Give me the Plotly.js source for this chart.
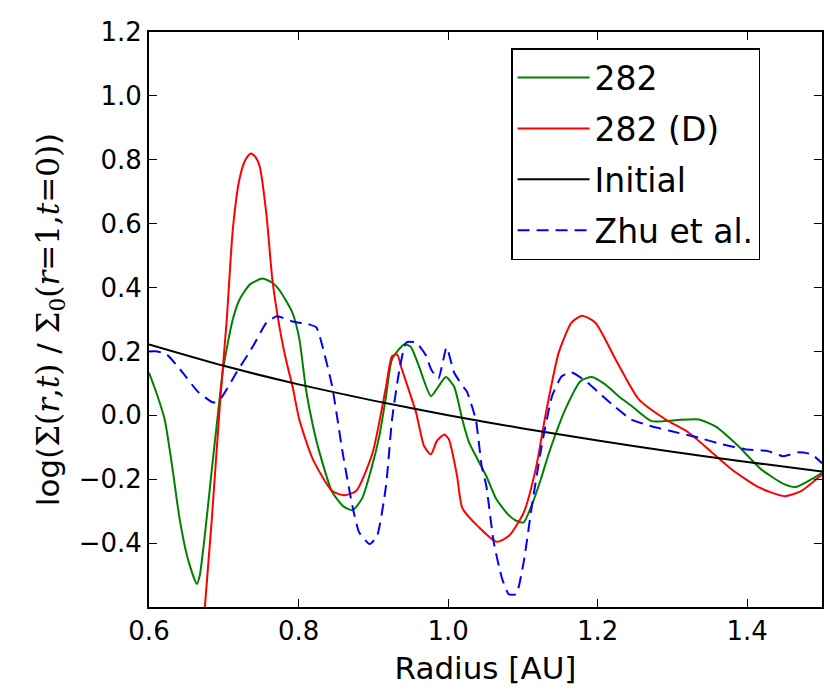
<!DOCTYPE html>
<html>
<head>
<meta charset="utf-8">
<script src="https://cdn.plot.ly/plotly-3.0.1.min.js"></script>
<style>
  body { margin: 0; background: #fff; }
  #chart { width: 830px; height: 695px; }
</style>
</head>
<body>
<div id="chart"></div>
<script>
// values
var r282 = [0.600, 0.610, 0.621, 0.631, 0.641, 0.652, 0.664, 0.668, 0.676, 0.684, 0.692, 0.699, 0.712, 0.721, 0.735, 0.752, 0.765, 0.775, 0.792, 0.801, 0.810, 0.819, 0.828, 0.845, 0.860, 0.872, 0.885, 0.897, 0.908, 0.917, 0.925, 0.941, 0.950, 0.960, 0.977, 0.987, 0.997, 1.008, 1.019, 1.028, 1.051, 1.064, 1.080, 1.091, 1.101, 1.112, 1.124, 1.135, 1.157, 1.177, 1.192, 1.210, 1.228, 1.245, 1.272, 1.304, 1.335, 1.357, 1.388, 1.419, 1.450, 1.465, 1.486, 1.500];
var s282 = [0.134, 0.070, -0.013, -0.160, -0.325, -0.450, -0.528, -0.500, -0.347, -0.170, 0.000, 0.144, 0.300, 0.362, 0.410, 0.428, 0.415, 0.390, 0.320, 0.240, 0.080, -0.030, -0.116, -0.240, -0.285, -0.297, -0.260, -0.170, -0.065, 0.060, 0.175, 0.222, 0.215, 0.160, 0.060, 0.090, 0.120, 0.090, -0.013, -0.085, -0.190, -0.260, -0.310, -0.330, -0.335, -0.280, -0.200, -0.117, 0.020, 0.107, 0.120, 0.097, 0.060, 0.030, -0.018, -0.015, -0.013, -0.034, -0.096, -0.170, -0.216, -0.224, -0.200, -0.180];

var r282D = [0.672, 0.684, 0.695, 0.704, 0.712, 0.721, 0.729, 0.736, 0.742, 0.748, 0.757, 0.765, 0.775, 0.784, 0.792, 0.801, 0.819, 0.845, 0.861, 0.877, 0.899, 0.917, 0.925, 0.932, 0.937, 0.957, 0.968, 0.977, 0.985, 0.995, 1.001, 1.012, 1.019, 1.041, 1.065, 1.081, 1.101, 1.117, 1.131, 1.148, 1.165, 1.179, 1.197, 1.224, 1.255, 1.291, 1.321, 1.348, 1.379, 1.415, 1.450, 1.472, 1.500];
var s282D = [-0.680, -0.325, 0.040, 0.300, 0.580, 0.740, 0.800, 0.820, 0.810, 0.780, 0.630, 0.425, 0.270, 0.166, 0.090, -0.013, -0.137, -0.237, -0.250, -0.237, -0.117, 0.090, 0.185, 0.190, 0.153, 0.010, -0.097, -0.122, -0.080, -0.060, -0.075, -0.190, -0.290, -0.350, -0.396, -0.378, -0.305, -0.170, 0.010, 0.197, 0.290, 0.312, 0.290, 0.175, 0.050, -0.013, -0.053, -0.106, -0.169, -0.225, -0.253, -0.237, -0.185];

var rInit = [0.6, 0.7, 0.8, 0.9, 1.0, 1.1, 1.2, 1.3, 1.4, 1.5];
var sInit = [0.222, 0.155, 0.097, 0.046, 0.000, -0.041, -0.079, -0.114, -0.146, -0.176];

var rZhu = [0.600, 0.611, 0.624, 0.645, 0.665, 0.686, 0.695, 0.717, 0.739, 0.757, 0.771, 0.792, 0.815, 0.824, 0.832, 0.845, 0.859, 0.872, 0.881, 0.895, 0.905, 0.917, 0.925, 0.935, 0.944, 0.957, 0.971, 0.977, 0.987, 0.998, 1.008, 1.021, 1.025, 1.037, 1.045, 1.051, 1.061, 1.072, 1.081, 1.091, 1.101, 1.112, 1.125, 1.139, 1.152, 1.165, 1.184, 1.201, 1.224, 1.245, 1.272, 1.299, 1.335, 1.365, 1.397, 1.428, 1.448, 1.468, 1.486, 1.500];
var sZhu = [0.200, 0.200, 0.190, 0.134, 0.075, 0.040, 0.050, 0.134, 0.216, 0.290, 0.310, 0.294, 0.284, 0.275, 0.216, 0.090, -0.117, -0.284, -0.366, -0.403, -0.378, -0.220, -0.013, 0.144, 0.228, 0.228, 0.185, 0.145, 0.115, 0.213, 0.134, 0.087, 0.075, -0.013, -0.160, -0.220, -0.397, -0.510, -0.560, -0.560, -0.460, -0.284, -0.097, 0.060, 0.122, 0.134, 0.107, 0.072, 0.025, -0.013, -0.034, -0.050, -0.070, -0.090, -0.106, -0.112, -0.128, -0.116, -0.122, -0.150];

var xTicks = [0.6, 0.8, 1.0, 1.2, 1.4];
var yTicks = [-0.4, -0.2, 0.0, 0.2, 0.4, 0.6, 0.8, 1.0, 1.2];

var traces = [
  { x: r282, y: s282, name: "282", legendgroup: "a", type: "scatter", mode: "lines",
    line: { color: "#008000", width: 2, shape: "spline", smoothing: 0.6 } },
  { x: r282D, y: s282D, name: "282 (D)", legendgroup: "b", type: "scatter", mode: "lines",
    line: { color: "#ff0000", width: 2, shape: "spline", smoothing: 0.6 } },
  { x: rInit, y: sInit, name: "Initial", legendgroup: "c", type: "scatter", mode: "lines",
    line: { color: "#000000", width: 2, shape: "spline", smoothing: 0.6 } },
  { x: rZhu, y: sZhu, name: "Zhu et al.", legendgroup: "d", type: "scatter", mode: "lines",
    line: { color: "#0000ff", width: 2, dash: "12px,7px", shape: "spline", smoothing: 0.5 } }
];

var serif = '<span style="font-family:\'DejaVu Serif\'">';
var layout = {
  width: 830,
  height: 695,
  margin: { l: 149, r: 8, t: 32, b: 88 },
  paper_bgcolor: "#fff",
  plot_bgcolor: "#fff",
  font: { family: "DejaVu Sans", size: 26, color: "#000" },
  showlegend: true,
  legend: {
    x: 0.538, y: 0.972, xanchor: "left", yanchor: "top",
    bordercolor: "#000", borderwidth: 1.5, bgcolor: "#fff",
    font: { size: 33 }, tracegroupgap: 5, itemwidth: 72
  },
  xaxis: {
    range: [0.6, 1.5],
    tickvals: xTicks,
    ticktext: xTicks.map(function (v) { return v.toFixed(1); }),
    ticks: "inside", ticklen: 8, tickwidth: 1, tickcolor: "#000",
    showline: true, linecolor: "#000", linewidth: 2, mirror: "allticks",
    showgrid: false, zeroline: false,
    title: { text: "Radius [AU]", standoff: 12 }
  },
  yaxis: {
    range: [-0.6, 1.2],
    tickvals: yTicks,
    ticktext: yTicks.map(function (v) { return (v < 0 ? "\u2212" : "") + Math.abs(v).toFixed(1); }),
    ticks: "inside", ticklen: 8, tickwidth: 1, tickcolor: "#000",
    showline: true, linecolor: "#000", linewidth: 2, mirror: "allticks",
    showgrid: false, zeroline: false,
    title: {
      text: "log(" + serif + "\u03A3(<i>r</i>,<i>t</i>)</span> / " + serif +
            "\u03A3<sub>0</sub>(<i>r</i>=1,<i>t</i>=0)</span>)",
      standoff: 10
    }
  }
};

Plotly.newPlot("chart", traces, layout, { staticPlot: true });
</script>
</body>
</html>
